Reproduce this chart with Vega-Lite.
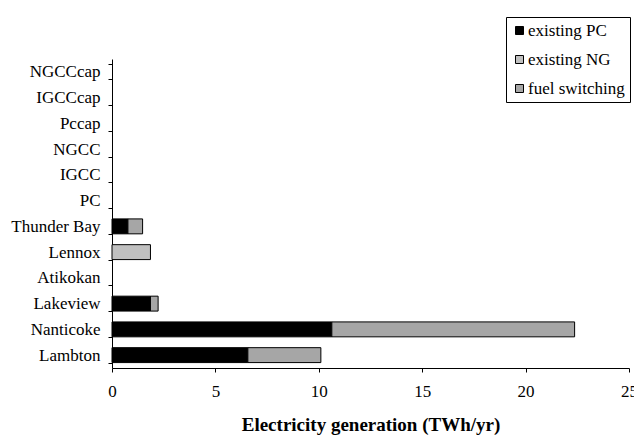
{
  "$schema": "https://vega.github.io/schema/vega-lite/v6.json",
  "width": 517,
  "height": 309,
  "autosize": {"type": "none"},
  "padding": {"left": 112, "top": 59, "right": 5, "bottom": 71},
  "background": "white",
  "config": {
    "font": "Liberation Serif",
    "view": {"stroke": null},
    "axis": {"labelFont": "Liberation Serif", "titleFont": "Liberation Serif", "labelColor": "black", "titleColor": "black", "domainColor": "black", "tickColor": "black", "grid": false}
  },
  "data": {
    "values": [
      {"plant": "Lambton", "type": "existing PC", "ord": 1, "value": 6.57},
      {"plant": "Lambton", "type": "fuel switching", "ord": 3, "value": 3.53},
      {"plant": "Nanticoke", "type": "existing PC", "ord": 1, "value": 10.63},
      {"plant": "Nanticoke", "type": "fuel switching", "ord": 3, "value": 11.74},
      {"plant": "Lakeview", "type": "existing PC", "ord": 1, "value": 1.86},
      {"plant": "Lakeview", "type": "fuel switching", "ord": 3, "value": 0.37},
      {"plant": "Lennox", "type": "existing NG", "ord": 2, "value": 1.86},
      {"plant": "Thunder Bay", "type": "existing PC", "ord": 1, "value": 0.77},
      {"plant": "Thunder Bay", "type": "fuel switching", "ord": 3, "value": 0.71}
    ]
  },
  "mark": {"type": "bar", "stroke": "black", "strokeWidth": 1},
  "encoding": {
    "y": {
      "field": "plant",
      "type": "nominal",
      "scale": {
        "domain": ["NGCCcap", "IGCCcap", "Pccap", "NGCC", "IGCC", "PC", "Thunder Bay", "Lennox", "Atikokan", "Lakeview", "Nanticoke", "Lambton"],
        "paddingInner": 0.42,
        "paddingOuter": 0.21
      },
      "axis": {
        "title": null,
        "tickBand": "extent",
        "tickSize": 4,
        "labelPadding": 8,
        "labelFontSize": 17,
        "domainWidth": 1
      }
    },
    "x": {
      "field": "value",
      "type": "quantitative",
      "stack": "zero",
      "scale": {"domain": [0, 25], "nice": false},
      "axis": {
        "title": "Electricity generation (TWh/yr)",
        "values": [0, 5, 10, 15, 20, 25],
        "tickSize": 4,
        "labelPadding": 11,
        "labelFontSize": 17,
        "titleFontSize": 19,
        "titleFontWeight": "bold",
        "titlePadding": 16,
        "labelFlush": false,
        "labelOverlap": false
      }
    },
    "color": {
      "field": "type",
      "type": "nominal",
      "scale": {"domain": ["existing PC", "existing NG", "fuel switching"], "range": ["#000000", "#c0c0c0", "#a6a6a6"]},
      "legend": {
        "title": null,
        "orient": "none",
        "legendX": 394,
        "legendY": -42,
        "strokeColor": "black",
        "fillColor": "white",
        "padding": 5,
        "rowPadding": 11,
        "symbolType": "square",
        "symbolSize": 64,
        "symbolStrokeColor": "black",
        "symbolStrokeWidth": 1,
        "labelFontSize": 17,
        "labelFont": "Liberation Serif",
        "labelColor": "black",
        "labelOffset": 0
      }
    },
    "order": {"field": "ord", "type": "quantitative"}
  }
}
